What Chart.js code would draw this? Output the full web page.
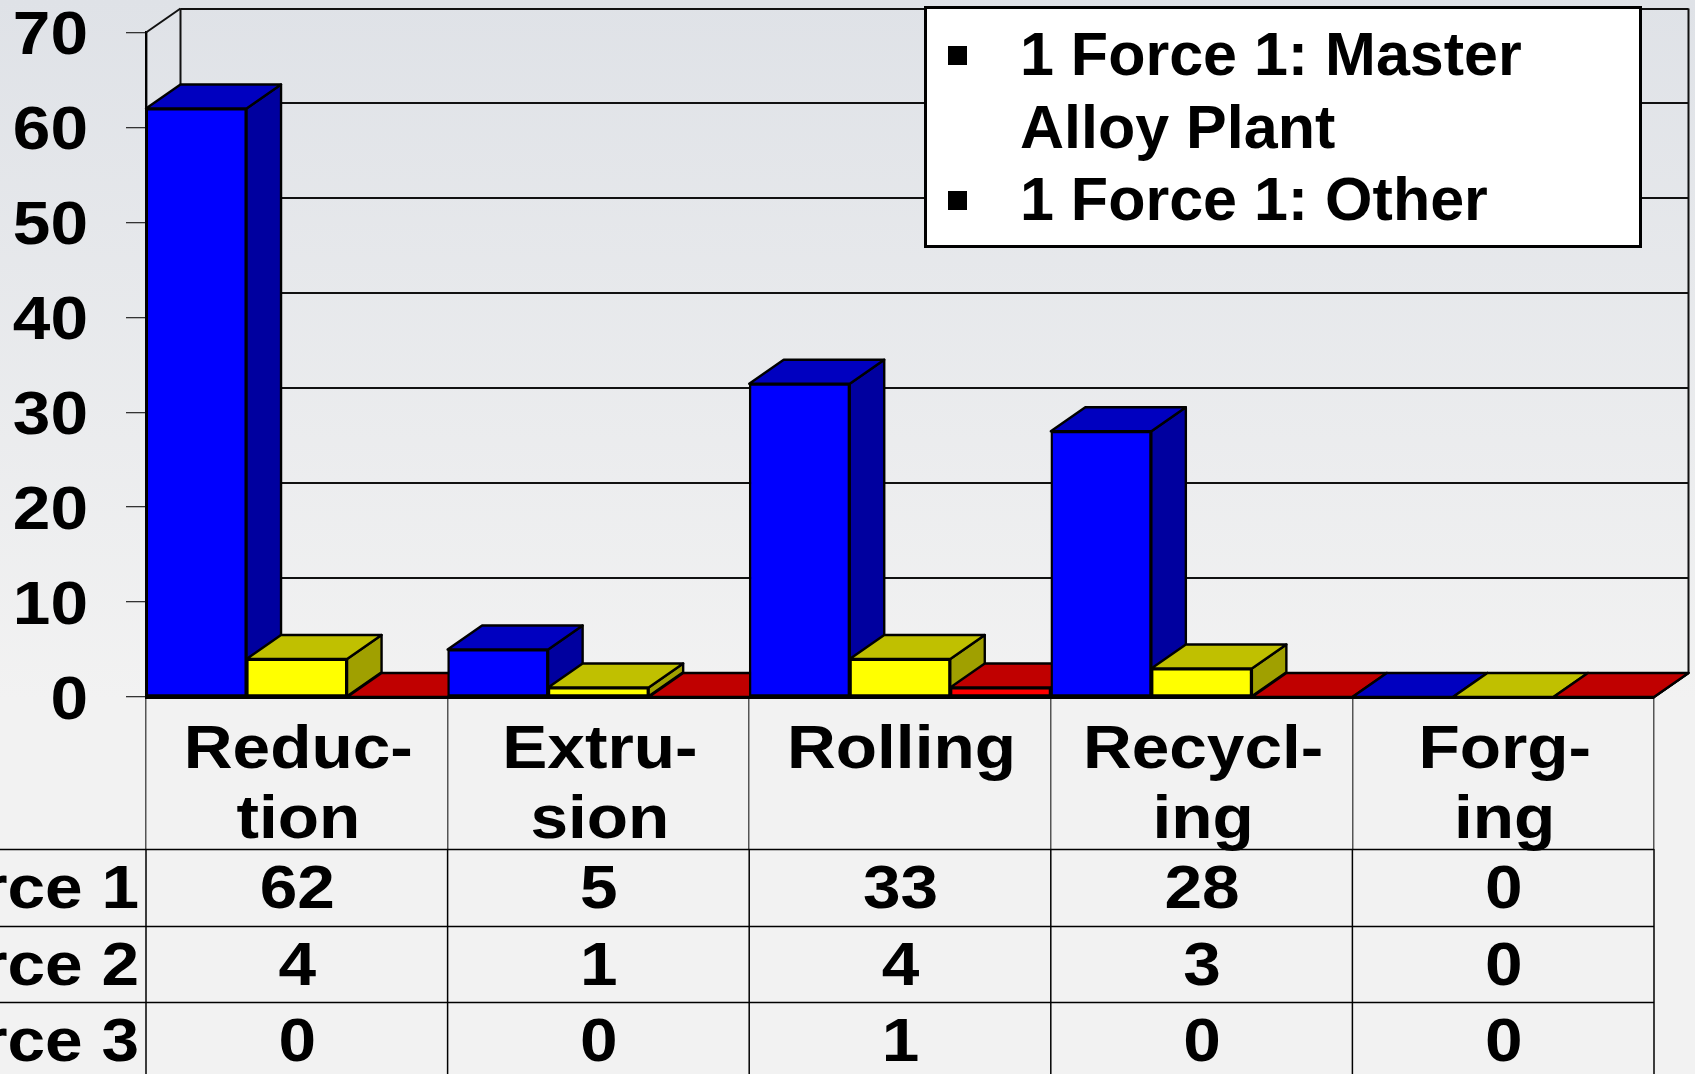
<!DOCTYPE html>
<html>
<head>
<meta charset="utf-8">
<script src="https://cdn.jsdelivr.net/npm/chart.js@4"></script>
<style>
html,body{margin:0;padding:0;width:1695px;height:1074px;overflow:hidden;}
body{background:linear-gradient(to bottom,#dfe2e7 0px,#f2f2f2 700px,#f2f2f2 1074px);font-family:"Liberation Sans",Arial,sans-serif;}
#c{position:absolute;left:0;top:0;}
#legend{position:absolute;left:924px;top:5.5px;width:718px;height:242px;box-sizing:border-box;background:#fff;border:3px solid #000;padding:9.5px 0 0 93px;font:bold 61px/72.5px "Liberation Sans",Arial,sans-serif;color:#000;}
#legend .e{position:relative;}
#legend .b{position:absolute;left:-72px;top:27.5px;width:19px;height:19px;background:#000;}
</style>
</head>
<body>
<canvas id="c" width="1695" height="1074"></canvas>
<div id="legend"></div>
<script>
const categories = [["Reduc-","tion"],["Extru-","sion"],["Rolling"],["Recycl-","ing"],["Forg-","ing"]];
const force1 = [62,5,33,28,0];
const force2 = [4,1,4,3,0];
const force3 = [0,0,1,0,0];
const rowLabels = ["Force 1","Force 2","Force 3"];
const legendEntries = [["1 Force 1: Master","Alloy Plant"],["1 Force 1: Other"]];

const FONT = '"Liberation Sans", Arial, sans-serif';
const DX = 34.5, DY = 24;
const faces = [
  {front:'#0000FF', top:'#0000C0', side:'#00009F'},
  {front:'#FFFF00', top:'#C0C000', side:'#A0A000'},
  {front:'#FF0000', top:'#C00000', side:'#A00000'}
];

document.getElementById('legend').innerHTML = legendEntries.map(lines =>
  '<div class="e"><span class="b"></span>' + lines.join('<br>') + '</div>').join('');

const canvas = document.getElementById('c');
const ctx = canvas.getContext('2d');
// The reference's chart text is horizontally widened and sits slightly low.
const STRETCH = 1.09;
const MIDDLE_SHIFT = 4.5;
const CENTER_NUDGE = 1.5;
const baseFillText = ctx.fillText.bind(ctx);
ctx.fillText = function(t, x, y){
  const mid = ctx.textBaseline === 'middle';
  ctx.save();
  ctx.translate(x + (mid && ctx.textAlign === 'center' ? CENTER_NUDGE : 0), y + (mid ? MIDDLE_SHIFT : 0));
  ctx.scale(STRETCH, 1);
  baseFillText(t, 0, 0);
  ctx.restore();
};

function poly(c, pts, fill){
  c.beginPath();
  pts.forEach((p,i)=> i ? c.lineTo(p[0],p[1]) : c.moveTo(p[0],p[1]));
  c.closePath();
  if(fill){c.fillStyle=fill;c.fill();}
  c.stroke();
}
function line(c,x1,y1,x2,y2){c.beginPath();c.moveTo(x1,y1);c.lineTo(x2,y2);c.stroke();}

const wall3d = {
  id:'wall3d',
  beforeDatasetsDraw(chart){
    const c = chart.ctx, a = chart.chartArea, y = chart.scales.y;
    c.save();
    c.strokeStyle='#111'; c.lineJoin='round';
    c.lineWidth=2;
    y.ticks.forEach(t=>{
      const p = Math.round(y.getPixelForValue(t.value)-DY);
      line(c,a.left+DX,p,a.right+DX,p);
    });
    line(c,a.left+DX,a.top-DY,a.left+DX,a.bottom-DY);
    line(c,a.right+DX,a.top-DY,a.right+DX,a.bottom-DY);
    line(c,a.left,a.top,a.left+DX,a.top-DY);
    line(c,a.right,a.bottom,a.right+DX,a.bottom-DY);
    // side and top faces, painted left to right; fronts are drawn over them by the library
    c.strokeStyle='#000';
    c.lineWidth=2.4;
    const n = chart.data.labels.length;
    for(let i=0;i<n;i++){
      chart.data.datasets.forEach((d,k)=>{
        const b = chart.getDatasetMeta(k).data[i];
        const L=b.x-b.width/2, R=b.x+b.width/2, T=b.y, B=b.base, f=faces[k];
        poly(c,[[R,T],[R+DX,T-DY],[R+DX,B-DY],[R,B]],f.side);
        poly(c,[[L,T],[L+DX,T-DY],[R+DX,T-DY],[R,T]],f.top);
      });
    }
    c.restore();
  }
};

const dataTable = {
  id:'dataTable',
  afterDatasetsDraw(chart){
    const c = chart.ctx, a = chart.chartArea, x = chart.scales.x;
    const rows = [849,926,1002];
    const baselines = [908,984.5,1061];
    const series = chart.data.datasets.map(d=>d.data);
    const w = x.getPixelForTick(1)-x.getPixelForTick(0);
    c.save();
    c.strokeStyle='#000'; c.lineWidth=1.5;
    rows.forEach(r=>line(c,0,r+0.5,a.right,r+0.5));
    for(let i=0;i<=series[0].length;i++){
      const p = a.left+i*w;
      line(c,p,849,p,1074);
    }
    c.fillStyle='#000';
    c.font='bold 62px '+FONT;
    c.textBaseline='alphabetic';
    series.forEach((vals,r)=>{
      c.textAlign='right';
      c.fillText(rowLabels[r],139,baselines[r]);
      c.textAlign='center';
      vals.forEach((v,i)=>c.fillText(String(v),x.getPixelForTick(i)+0.5,baselines[r]));
    });
    c.restore();
  }
};

new Chart(ctx,{
  type:'bar',
  data:{
    labels:categories,
    datasets:[force1,force2,force3].map((d,k)=>({
      label:rowLabels[k],
      data:d,
      backgroundColor:faces[k].front,
      borderColor:'#000',
      borderWidth:2.4,
      borderSkipped:false,
      categoryPercentage:1,
      barPercentage:1
    }))
  },
  options:{
    responsive:false,
    animation:false,
    events:[],
    layout:{padding:{top:32.5,right:41,left:0,bottom:0}},
    plugins:{legend:{display:false},tooltip:{enabled:false},title:{display:false}},
    scales:{
      x:{
        afterFit(s){s.height=377;s.paddingLeft=0;s.paddingRight=0;},
        grid:{drawOnChartArea:false,drawTicks:true,tickLength:152,color:'#555',lineWidth:1.5,offset:true},
        border:{display:true,color:'#000',width:3},
        ticks:{
          autoSkip:false,maxRotation:0,minRotation:0,color:'#000',padding:-138,
          font:{family:FONT,size:62,weight:'bold',lineHeight:70/62}
        }
      },
      y:{
        min:0,max:70,
        afterFit(s){s.width=146;s.paddingTop=0;s.paddingBottom=0;},
        grid:{drawOnChartArea:false,drawTicks:true,tickLength:20,color:'#333',lineWidth:1.3},
        border:{display:true,color:'#000',width:2.4},
        ticks:{
          stepSize:10,autoSkip:false,color:'#000',padding:38,
          font:{family:FONT,size:62,weight:'bold'}
        }
      }
    }
  },
  plugins:[wall3d,dataTable]
});
</script>
</body>
</html>
